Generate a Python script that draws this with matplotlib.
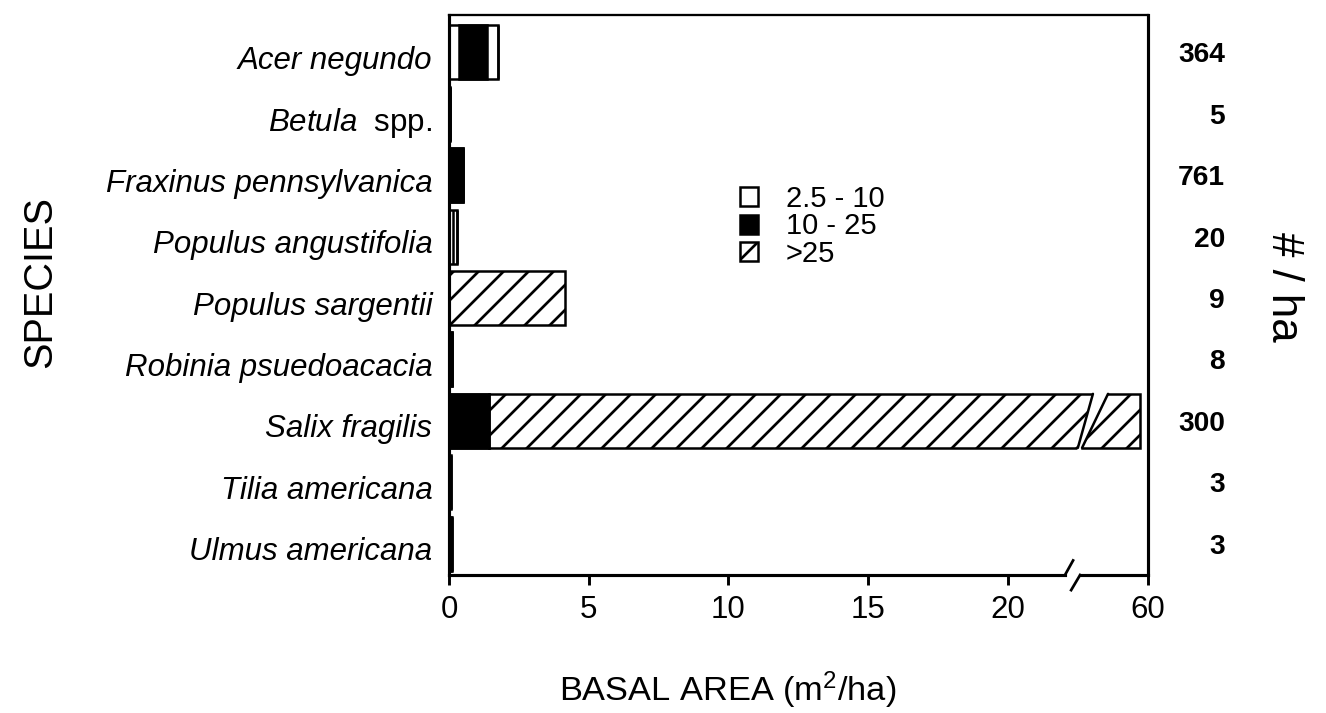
import matplotlib
matplotlib.use("Agg")
import matplotlib.pyplot as plt
import numpy as np
from matplotlib.patches import Patch
from matplotlib.transforms import ScaledTranslation

plt.rcParams["font.family"] = ["Liberation Sans", "DejaVu Sans"]
plt.rcParams["mathtext.fontset"] = "custom"
plt.rcParams["mathtext.rm"] = "Liberation Sans"
plt.rcParams["mathtext.it"] = "Liberation Sans:italic"
plt.rcParams["hatch.linewidth"] = 1.3

# data (basal area, m2/ha, by diameter class in cm)
species = ["Acer negundo", "Betula spp.", "Fraxinus pennsylvanica", "Populus angustifolia",
           "Populus sargentii", "Robinia psuedoacacia", "Salix fragilis", "Tilia americana",
           "Ulmus americana"]
density = [364, 5, 761, 20, 9, 8, 300, 3, 3]
ba_small = [0.75, 0.04, 0.0, 0.3, 0.0, 0.0, 0.0, 0.04, 0.05]
ba_medium = [1.0, 0.0, 0.5, 0.0, 0.0, 0.1, 1.43, 0.03, 0.04]
ba_large = [0.0, 0.0, 0.0, 0.0, 4.15, 0.0, 58.3, 0.0, 0.0]
class_labels = ["2.5 - 10", "10 - 25", ">25"]
xticks = [0, 5, 10, 15, 20, 60]


# broken x axis: 0-22 linear, gap, then 57-60
def fwd(x):
    x = np.asarray(x, float)
    return np.where(x <= 22, x, np.where(x >= 57, x - 34.99, 22 + (x - 22) * 0.01 / 35))


def inv(d):
    d = np.asarray(d, float)
    return np.where(d <= 22, d, np.where(d >= 22.01, d + 34.99, 22 + (d - 22) * 35 / 0.01))


fig = plt.figure(figsize=(1327 / 150, 713 / 150), dpi=150)
ax = fig.add_axes([449 / 1327, 1 - 575 / 713, 699 / 1327, 560 / 713])
ax.set_xscale("function", functions=(fwd, inv))
ax.set_xlim(0, 60)
ax.set_ylim(8.51, -0.61)

rows = np.arange(len(species))
h = 0.88
small = np.array(ba_small)
medium = np.array(ba_medium)
large = np.array(ba_large)

ax.barh(rows, small + medium, height=h, color="white", edgecolor="black", linewidth=1.2, zorder=2)
ax.barh(rows, medium, left=small / 2, height=h, color="black", edgecolor="black", linewidth=1.2, zorder=3)
ax.barh(rows, large, left=small + medium, height=h, color="white", edgecolor="black",
        hatch="//", linewidth=1.2, zorder=2)

# gap in the Salix bar across the axis break
i = species.index("Salix fragilis")
y_top, y_bot = i - h / 2, i + h / 2
left_edge = (22.5, 23.04)   # display units at bottom, top
right_edge = (22.65, 23.58)
e = 0.05
poly_x = [left_edge[0] - (left_edge[1] - left_edge[0]) * e / h, left_edge[1] + (left_edge[1] - left_edge[0]) * e / h,
          right_edge[1] + (right_edge[1] - right_edge[0]) * e / h, right_edge[0] - (right_edge[1] - right_edge[0]) * e / h]
poly_y = [y_bot + e, y_top - e, y_top - e, y_bot + e]
ax.fill(inv(poly_x), poly_y, color="white", zorder=4, lw=0)
for ed in (left_edge, right_edge):
    ax.plot(inv(list(ed)), [y_bot, y_top], color="black", lw=1.2, zorder=5, solid_capstyle="round")

# spines and broken bottom axis
for s in ["left", "right"]:
    ax.spines[s].set_linewidth(1.5)
ax.spines["top"].set_linewidth(1.1)
ax.spines["bottom"].set_visible(False)
tr = ax.get_xaxis_transform()
ax.plot(inv([0, 22.04]), [0, 0], transform=tr, color="black", lw=1.5, clip_on=False)
ax.plot(inv([22.58, 25.01]), [0, 0], transform=tr, color="black", lw=1.5, clip_on=False)
ax.plot(inv([22.04, 22.33]), [0, 0.026], transform=tr, color="black", lw=1.3, clip_on=False)
ax.plot(inv([22.26, 22.58]), [-0.027, 0], transform=tr, color="black", lw=1.3, clip_on=False)

ax.set_xticks(xticks)
ax.set_xticklabels([str(t) for t in xticks], fontsize=15)
ax.tick_params(axis="x", direction="out", length=4.8, width=1.4, pad=5)

ax.set_yticks(rows)
ax.tick_params(axis="y", length=0, pad=8)
ax.set_yticklabels([r"$\mathit{Betula}$  spp." if s == "Betula spp." else s for s in species], fontsize=15)
shift = ScaledTranslation(0, -5 / 150, fig.dpi_scale_trans)
for t, s in zip(ax.get_yticklabels(), species):
    t.set_fontstyle("normal" if s == "Betula spp." else "italic")
    t.set_transform(t.get_transform() + shift)

ax2 = ax.twinx()
ax2.set_ylim(ax.get_ylim())
ax2.set_yticks(rows)
ax2.set_yticklabels([str(d) for d in density], fontsize=13.5, fontweight="bold")
ax2.tick_params(axis="y", length=0, pad=37)
for t in ax2.get_yticklabels():
    t.set_ha("right")
for s in ax2.spines.values():
    s.set_visible(False)

handles = [Patch(facecolor="white", edgecolor="black", lw=1.2),
           Patch(facecolor="black", edgecolor="black", lw=1.2),
           Patch(facecolor="white", edgecolor="black", hatch="/", lw=1.2)]
fig.legend(handles, class_labels, loc="upper left", bbox_to_anchor=(740 / 1327, 1 - 185 / 713),
           bbox_transform=fig.transFigure, frameon=False, fontsize=14, handlelength=0.62,
           handleheight=0.62, handletextpad=0.95, labelspacing=-0.02, borderpad=0, borderaxespad=0)

fig.text(40 / 1327, 1 - 282 / 713, "SPECIES", rotation=90, fontsize=19, ha="center", va="center")
fig.text(728 / 1327, 1 - 690 / 713, r"BASAL AREA (m$^{2}$/ha)", fontsize=16.5, ha="center", va="center")
fig.text(1284 / 1327, 1 - 287 / 713, "# / ha", rotation=270, fontsize=21, ha="center", va="center")

fig.savefig("out.png", dpi=150)
